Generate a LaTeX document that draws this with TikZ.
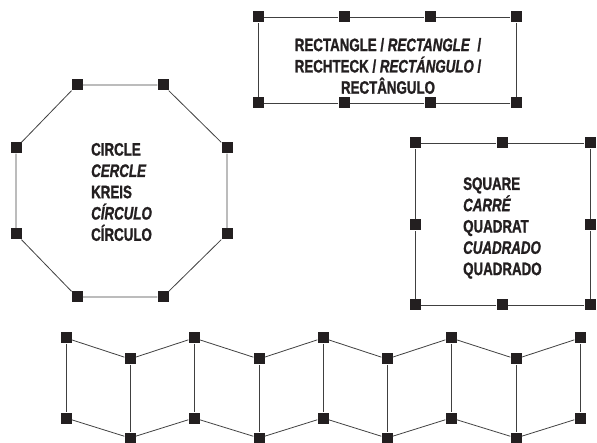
\documentclass[tikz,border=0pt]{standalone}
\usepackage{fontspec}
\setmainfont{Liberation Sans}[FakeStretch=0.74,BoldFeatures={FakeBold=1.2},BoldItalicFeatures={FakeBold=1.2}]
\definecolor{ink}{HTML}{231F20}
\begin{document}
\begin{tikzpicture}[x=1pt,y=-1pt,
  hnd/.style={rectangle,fill=ink,draw=none,minimum size=11pt,inner sep=0pt},
  edge/.style={draw=black!75,line width=0.8pt},
  lbl/.style={font=\bfseries\fontsize{18}{21.3}\selectfont,text=ink,inner sep=0pt}]
\useasboundingbox (0,0) rectangle (597,443);
% rectangle
\foreach \n/\x/\y in {r1/258/17,r2/344/17,r3/430/17,r4/516/17,r5/258/103,r6/344/103,r7/430/103,r8/516/103}
  \node[hnd] (\n) at (\x,\y) {};
\draw[edge] (r1)--(r2) (r2)--(r3) (r3)--(r4) (r4)--(r8) (r8)--(r7) (r7)--(r6) (r6)--(r5) (r5)--(r1);
\node[lbl,align=center] (rt) at (388,66) {RECTANGLE / \textit{RECTANGLE}\ \ /\\RECHTECK / \textit{RECTÁNGULO} /\\RECTÂNGULO};
% octagon
\foreach \n/\x/\y in {o1/77/85,o2/163/85,o3/227/148,o4/227/234,o5/163/297,o6/77/297,o7/16/234,o8/16/148}
  \node[hnd] (\n) at (\x,\y) {};
\draw[edge] (o1)--(o2) (o2)--(o3) (o3)--(o4) (o4)--(o5) (o5)--(o6) (o6)--(o7) (o7)--(o8) (o8)--(o1);
\node[lbl,align=left,anchor=west] (ot) at (91,192) {CIRCLE\\\textit{CERCLE}\\KREIS\\\textit{CÍRCULO}\\CÍRCULO};
% square
\foreach \n/\x/\y in {s1/415/143,s2/502/143,s3/590/143,s4/590/225,s5/590/305,s6/502/305,s7/415/305,s8/415/225}
  \node[hnd] (\n) at (\x,\y) {};
\draw[edge] (s1)--(s2) (s2)--(s3) (s3)--(s4) (s4)--(s5) (s5)--(s6) (s6)--(s7) (s7)--(s8) (s8)--(s1);
\node[lbl,align=left,anchor=west] (st) at (463,228) {SQUARE\\\textit{CARRÉ}\\QUADRAT\\\textit{CUADRADO}\\QUADRADO};
% zigzag
\foreach \i/\x/\ty/\by in {1/66/338/418,2/130/359/438,3/194/338/418,4/259/359/438,5/323/338/418,6/387/359/438,7/451/338/418,8/516/359/438,9/580/338/418}{
  \node[hnd] (t\i) at (\x,\ty) {};
  \node[hnd] (b\i) at (\x,\by) {};
  \draw[edge] (t\i)--(b\i);
}
\foreach \i [evaluate=\i as \j using int(\i+1)] in {1,...,8}
  \draw[edge] (t\i)--(t\j) (b\i)--(b\j);
\end{tikzpicture}
\end{document}
